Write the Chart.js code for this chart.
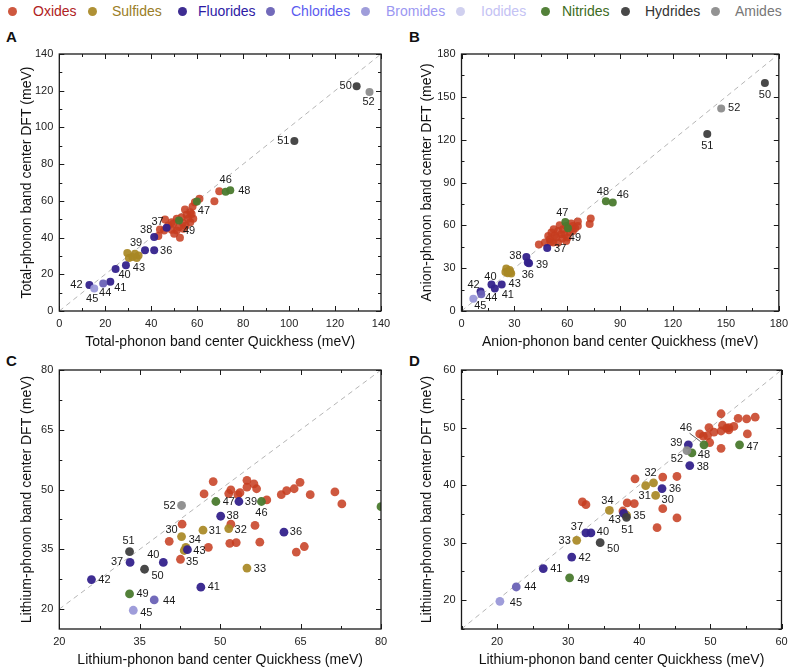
<!DOCTYPE html>
<html>
<head>
<meta charset="utf-8">
<script src="https://cdn.jsdelivr.net/npm/chart.js@4.4.1/dist/chart.umd.min.js"></script>
<style>
  body { margin:0; width:794px; height:671px; background:#fff; position:relative; overflow:hidden;
         font-family:"Liberation Sans", Arial, sans-serif; }
  canvas { position:absolute; }
  .lg-dot { position:absolute; width:9px; height:9px; border-radius:50%; top:6.5px; }
  .lg-txt { position:absolute; top:3px; font-size:14px; line-height:16px; white-space:nowrap; }
  .letter { position:absolute; font-weight:bold; font-size:15px; line-height:15px; color:#111; }
</style>
</head>
<body>
<div id="legend"></div>
<div class="letter" style="left:6px;top:29px">A</div>
<div class="letter" style="left:409px;top:29px">B</div>
<div class="letter" style="left:6px;top:353px">C</div>
<div class="letter" style="left:409px;top:353px">D</div>
<canvas id="cA" width="400" height="330" style="left:0;top:30px"></canvas>
<canvas id="cB" width="394" height="330" style="left:400px;top:30px"></canvas>
<canvas id="cC" width="400" height="321" style="left:0;top:350px"></canvas>
<canvas id="cD" width="394" height="321" style="left:400px;top:350px"></canvas>
<script>
// material classes and the ids of the materials in each
const classNames = ['Oxides','Sulfides','Fluorides','Chlorides','Bromides','Iodides','Nitrides','Hydrides','Amides'];
const oxideIds = [1,2,3,4,5,6,7,8,9,10,11,12,13,14,15,16,17,18,19,20,21,22,23,24,25,26,27,28,29];
const sulfideIds = [30,31,32,33,34,35];
const fluorideIds = [36,37,38,39,40,41,42,43];
const chlorideIds = [44];
const bromideIds = [45];
const iodideIds = [];
const nitrideIds = [46,47,48,49];
const hydrideIds = [50,51];
const amideIds = [52];
const classIds = [oxideIds, sulfideIds, fluorideIds, chlorideIds, bromideIds, iodideIds, nitrideIds, hydrideIds, amideIds];

// values indexed by material id - 1 (meV)
const totalQuick = [69.6,67.5,61.0,58.0,54.7,46.0,43.8,43.1,52.5,51.1,48.9,49.6,51.1,53.2,55.4,56.1,57.0,58.3,57.0,53.7,47.4,48.9,52.1,50.0,54.0,45.6,59.0,57.6,55.0,
  29.6,30.3,32.9,33.7,34.5,31.8, 41.3,46.7,41.3,37.3,24.5,22.2,13.1,29.0, 19.1, 15.2, 72.4,59.9,74.4,52.1, 129.4,102.3, 135.0];
const totalDft = [65.2,59.8,61.1,56.9,55.3,49.9,44.4,40.8,39.9,43.9,44.3,47.5,50.2,51.1,52.4,50.2,48.4,50.2,53.8,48.1,46.6,48.4,45.7,42.1,44.8,43.9,59.2,52.9,46.5,
  31.6,28.9,31.2,28.9,30.2,29.4, 33.1,45.3,40.3,33.1,22.9,15.9,14.1,24.9, 15.0, 12.3, 65.0,59.6,65.8,49.3, 122.5,92.6, 119.3];

const anionQuick = [73.3,72.7,66.0,64.5,62.2,63.2,59.4,57.6,56.6,53.8,51.0,50.1,52.0,47.3,43.9,54.8,55.7,58.5,61.3,49.2,52.9,54.8,57.2,60.2,63.2,66.0,50.5,52.3,59.4,
  25.4,27.3,26.2,28.2,24.9,27.7, 37.6,48.6,36.8,38.3,17.0,18.9,10.8,22.8, 11.2, 6.7, 85.8,58.9,81.9,60.4, 172.1,139.4, 147.3];
const anionDft = [64.7,61.0,62.6,58.0,61.2,56.1,59.6,57.3,53.8,51.4,54.9,50.3,47.9,47.9,46.5,56.1,60.1,53.8,54.9,52.6,53.1,47.9,50.7,51.4,59.6,59.6,48.4,57.3,49.1,
  29.7,28.8,26.4,26.2,27.3,27.3, 33.9,44.2,37.9,33.4,18.5,15.7,13.6,18.5, 11.7, 8.6, 76.0,62.4,76.9,58.0, 159.7,123.9, 141.9];

const lithiumQuickC = [48.7,47.0,51.6,52.0,53.7,55.0,55.0,56.3,56.8,58.7,61.4,62.4,63.8,64.9,66.8,71.4,72.7,42.9,40.5,42.6,47.8,51.8,53.0,52.0,56.5,57.4,64.2,65.7,53.3,
  42.8,46.8,51.6,55.0,43.6,43.3, 61.9,33.2,50.1,53.5,39.4,46.4,26.0,43.9, 37.7, 33.8, 57.7,49.2,80.0,33.1, 35.9,33.1, 42.8];
const lithiumDftC = [52.0,48.9,49.0,49.9,49.2,52.3,50.6,51.4,50.2,47.4,48.7,49.7,50.2,51.8,48.7,49.4,46.4,41.3,37.0,32.5,35.5,36.5,36.7,41.3,41.0,36.8,34.3,35.7,48.7,
  38.2,39.8,40.2,30.3,35.5,34.7, 39.3,31.7,43.3,47.0,31.7,25.5,27.4,34.9, 22.3, 19.7, 47.0,47.0,45.7,23.8, 30.0,34.4, 46.0];

const lithiumQuickD = [51.5,56.3,55.1,53.9,53.3,52.6,51.7,52.6,51.5,50.5,49.8,48.5,49.6,49.9,55.2,51.5,39.4,43.3,45.3,32.0,32.5,38.3,39.3,43.3,45.3,42.5,37.7,49.0,52.3,
  42.3,40.9,42.0,31.2,35.8,38.2, 43.2,32.5,47.1,46.9,33.2,26.5,30.5,37.8, 22.7, 20.4, 49.1,54.1,47.4,30.2, 34.5,38.2, 46.7];
const lithiumDftD = [52.4,51.8,51.5,51.6,50.2,50.0,50.4,49.6,49.4,49.2,50.0,48.9,48.6,47.4,48.9,46.4,41.1,41.4,41.5,37.1,36.6,36.9,36.8,35.9,34.3,32.6,35.5,48.5,49.9,
  38.2,39.9,40.4,30.4,35.6,34.8, 39.4,31.7,43.4,47.0,31.7,25.5,27.5,35.1, 22.3, 19.8, 47.0,47.0,45.6,23.9, 30.0,34.4, 46.0];

// tick labels
const ticksA = [0,20,40,60,80,100,120,140];
const ticksB = [0,30,60,90,120,150,180];
const ticksC = [20,35,50,65,80];
const ticksD = [20,30,40,50,60];

// styling
const pointColors = ['rgba(198,60,32,0.86)','rgba(168,136,36,0.92)','rgba(52,34,140,0.95)','rgba(106,98,182,0.95)',
  'rgba(154,152,216,0.95)','rgba(206,205,238,0.95)','rgba(74,122,46,0.95)','rgba(62,62,62,0.95)','rgba(140,140,140,0.95)'];
const legendTextColors = ['#b02222','#9a7d26','#2d1aa5','#5b5bef','#9b97f2','#c4c2f4','#3d6b22','#333333','#777777'];
const legendDotX = [12,92,182,270,365,460,545,625,715];
const legendTextX = [33,112,198,291,386,481,562,645,735];

// label placement: id -> [dx, dy] in px from the point
const labelsA = {50:[-11,0],52:[-1,10],51:[-11,0],46:[0,-12],48:[14,1],47:[7,9],49:[10,10],37:[-9,-6],38:[-8,-7],
  39:[-9,-7],36:[12,1],43:[13,3],40:[9,6],41:[10,6],42:[-13,0],44:[2,10],45:[-2,11]};
const labelsB = {50:[0,12],52:[13,0],51:[0,12],48:[-3,-9],46:[10,-8],47:[-3,-9],49:[7,10],37:[13,1],38:[-11,-1],
  39:[13,2],36:[0,12],40:[-1,-8],43:[13,-1],41:[13,6],42:[-7,-7],44:[10,4],45:[7,7]};
const labelsC = {52:[-12,0],47:[13,0],39:[12,0],46:[0,11],38:[12,0],36:[12,0],31:[12,1],32:[12,1],30:[-10,-7],
  34:[9,-7],43:[12,1],35:[8,11],33:[13,1],41:[13,0],51:[-1,-11],37:[-13,0],40:[-10,-7],50:[13,7],42:[13,0],
  49:[13,0],44:[15,1],45:[13,3]};
const labelsD = {46:[-18,-17],39:[-12,-2],52:[-10,8],48:[12,2],47:[13,2],38:[13,1],32:[-3,-10],36:[13,0],31:[-1,10],
  30:[12,4],34:[-2,-9],43:[-9,7],35:[13,1],51:[1,13],37:[-9,-6],40:[12,-1],33:[-12,1],50:[13,6],42:[13,1],
  41:[13,0],49:[14,2],44:[14,0],45:[16,2]};

// legend
const legendEl = document.getElementById('legend');
classNames.forEach((name, k) => {
  const d = document.createElement('div');
  d.className = 'lg-dot';
  d.style.left = (legendDotX[k] - 4.5) + 'px';
  d.style.background = pointColors[k];
  legendEl.appendChild(d);
  const t = document.createElement('div');
  t.className = 'lg-txt';
  t.style.left = legendTextX[k] + 'px';
  t.style.color = legendTextColors[k];
  t.textContent = name;
  legendEl.appendChild(t);
});

// box with inward major/minor ticks on all four sides
const framePlugin = {
  id: 'frame',
  afterDatasetsDraw(chart, args, opts) {
    const {ctx, chartArea: {left, right, top, bottom}, scales: {x, y}} = chart;
    ctx.save();
    ctx.strokeStyle = '#1a1a1a';
    ctx.lineWidth = 1;
    const drawSet = (scale, values, len) => {
      values.forEach(v => {
        if (v < scale.min - 1e-9 || v > scale.max + 1e-9) return;
        const p = Math.round(scale.getPixelForValue(v)) + 0.5;
        ctx.beginPath();
        if (scale.isHorizontal()) {
          ctx.moveTo(p, bottom); ctx.lineTo(p, bottom - len);
          ctx.moveTo(p, top); ctx.lineTo(p, top + len);
        } else {
          ctx.moveTo(left, p); ctx.lineTo(left + len, p);
          ctx.moveTo(right, p); ctx.lineTo(right - len, p);
        }
        ctx.stroke();
      });
    };
    [[x, opts.xMajor, opts.xMinor], [y, opts.yMajor, opts.yMinor]].forEach(([s, major, step]) => {
      const minor = [];
      for (let v = major[0] - step; v >= s.min - 1e-9; v -= step) minor.push(v);
      for (let v = major[0]; v <= s.max + 1e-9; v += step) minor.push(v);
      drawSet(s, minor.filter(v => !major.includes(v)), 3);
      drawSet(s, major, 5);
    });
    ctx.lineWidth = 1.3;
    ctx.strokeRect(left, top, right - left, bottom - top);
    ctx.restore();
  }
};

// numbers next to the points
const labelPlugin = {
  id: 'ptlabels',
  afterDatasetsDraw(chart, args, opts) {
    const {ctx, scales: {x, y}} = chart;
    ctx.save();
    ctx.font = '11px "Liberation Sans", Arial, sans-serif';
    ctx.fillStyle = '#1a1a1a';
    ctx.textAlign = 'center';
    ctx.textBaseline = 'middle';
    Object.keys(opts.place).forEach(key => {
      const id = +key;
      const [dx, dy] = opts.place[key];
      const px = x.getPixelForValue(opts.xs[id - 1]);
      const py = y.getPixelForValue(opts.ys[id - 1]);
      ctx.fillText(String(id), px + dx, py + dy);
      if (opts.leader && opts.leader.includes(id)) {
        ctx.strokeStyle = '#333';
        ctx.lineWidth = 0.8;
        ctx.beginPath();
        ctx.moveTo(px + dx - 0.2 * dx, py + dy - 0.2 * dy + 2);
        ctx.lineTo(px + 0.18 * dx, py + 0.18 * dy);
        ctx.stroke();
      }
    });
    ctx.restore();
  }
};

Chart.defaults.font.family = '"Liberation Sans", Arial, sans-serif';
Chart.defaults.color = '#222';

function makePanel(p) {
  const datasets = [];
  classIds.forEach((ids, k) => {
    if (!ids.length) return;
    datasets.push({
      type: 'scatter',
      label: classNames[k],
      data: ids.map(id => ({x: p.xs[id - 1], y: p.ys[id - 1]})),
      backgroundColor: pointColors[k],
      borderWidth: 0,
      pointRadius: p.radius,
      pointHoverRadius: p.radius,
      clip: 0,
      order: classNames.length - k
    });
  });
  datasets.push({
    type: 'line',
    data: [{x: p.diag[0], y: p.diag[0]}, {x: p.diag[1], y: p.diag[1]}],
    borderColor: '#b5b5b5',
    borderWidth: 1,
    borderDash: [5, 4],
    pointRadius: 0,
    order: 50
  });

  const tickFont = {size: 11};
  return new Chart(document.getElementById(p.canvas), {
    type: 'scatter',
    data: {datasets},
    plugins: [framePlugin, labelPlugin],
    options: {
      responsive: false,
      animation: false,
      events: [],
      layout: {padding: {left: 0, right: p.padR, top: p.padT, bottom: p.padB}},
      plugins: {
        legend: {display: false},
        tooltip: {enabled: false},
        frame: {xMajor: p.xTicks, xMinor: p.xMinor, yMajor: p.yTicks, yMinor: p.yMinor},
        ptlabels: {place: p.labels, xs: p.xs, ys: p.ys, leader: p.leader || []}
      },
      scales: {
        x: {
          type: 'linear', min: p.xMin, max: p.xMax,
          afterBuildTicks: s => { s.ticks = p.xTicks.map(v => ({value: v})); },
          afterFit: s => { s.height = 40; },
          grid: {display: false, drawTicks: false},
          border: {display: false},
          ticks: {padding: 6, font: tickFont, color: '#222', autoSkip: false, maxRotation: 0},
          title: {display: true, text: p.xTitle, font: {size: 14}, color: '#111', padding: {top: 0, bottom: 0}}
        },
        y: {
          type: 'linear', min: p.yMin, max: p.yMax,
          afterBuildTicks: s => { s.ticks = p.yTicks.map(v => ({value: v})); },
          afterFit: s => { s.width = p.yWidth; },
          grid: {display: false, drawTicks: false},
          border: {display: false},
          ticks: {padding: 6, font: tickFont, color: '#222', autoSkip: false},
          title: {display: true, text: p.yTitle, font: {size: 14}, color: '#111', padding: {top: 19, bottom: 0}}
        }
      }
    }
  });
}

makePanel({canvas: 'cA', xs: totalQuick, ys: totalDft, labels: labelsA,
  xMin: 0, xMax: 140, yMin: 0, yMax: 140, xTicks: ticksA, yTicks: ticksA, xMinor: 10, yMinor: 10, diag: [0, 140],
  xTitle: 'Total-phonon band center Quickhess (meV)', yTitle: 'Total-phonon band center DFT (meV)',
  radius: 4, yWidth: 59.3, padR: 19, padT: 24, padB: 9});

makePanel({canvas: 'cB', xs: anionQuick, ys: anionDft, labels: labelsB,
  xMin: 0, xMax: 180, yMin: 0, yMax: 180, xTicks: ticksB, yTicks: ticksB, xMinor: 15, yMinor: 15, diag: [0, 180],
  xTitle: 'Anion-phonon band center Quickhess (meV)', yTitle: 'Anion-phonon band center DFT (meV)',
  radius: 4, yWidth: 61.5, padR: 12.5, padT: 24, padB: 9});

makePanel({canvas: 'cC', xs: lithiumQuickC, ys: lithiumDftC, labels: labelsC,
  xMin: 20, xMax: 80, yMin: 15, yMax: 80, xTicks: ticksC, yTicks: ticksC, xMinor: 7.5, yMinor: 7.5, diag: [20, 80],
  xTitle: 'Lithium-phonon band center Quickhess (meV)', yTitle: 'Lithium-phonon band center DFT (meV)',
  radius: 4.4, yWidth: 59.3, padR: 19, padT: 20, padB: 2});

makePanel({canvas: 'cD', xs: lithiumQuickD, ys: lithiumDftD, labels: labelsD, leader: [46],
  xMin: 15, xMax: 60, yMin: 15, yMax: 60, xTicks: ticksD, yTicks: ticksD, xMinor: 5, yMinor: 5, diag: [15, 60],
  xTitle: 'Lithium-phonon band center Quickhess (meV)', yTitle: 'Lithium-phonon band center DFT (meV)',
  radius: 4.4, yWidth: 61.5, padR: 12.5, padT: 20, padB: 2});
</script>
</body>
</html>
